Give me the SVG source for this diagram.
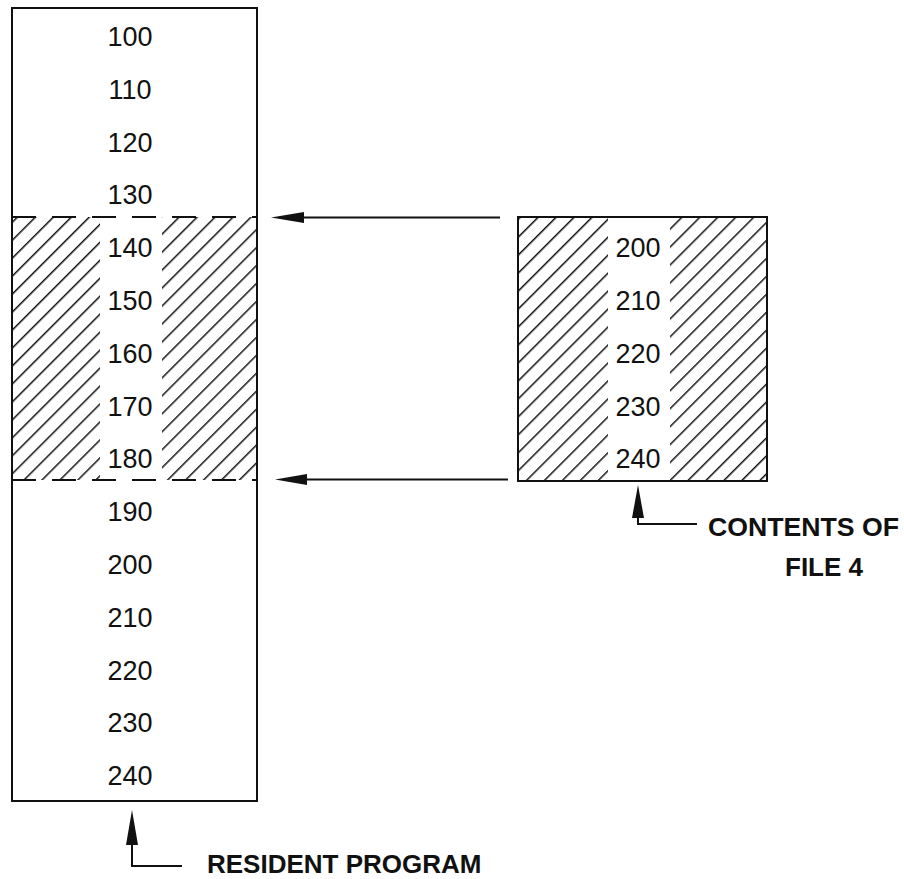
<svg xmlns="http://www.w3.org/2000/svg" width="904" height="879" viewBox="0 0 904 879">
<style>
.box{fill:none;stroke:#111;stroke-width:2}
.hatch{fill:url(#h);stroke:none}
.dash{stroke:#111;stroke-width:2;stroke-dasharray:24 16;fill:none}
.num{font-family:"Liberation Sans",Arial,sans-serif;font-size:27px;fill:#111;text-anchor:middle}
.lbl{font-family:"Liberation Sans",Arial,sans-serif;font-size:26px;font-weight:bold;fill:#111}
.con{fill:none;stroke:#111;stroke-width:2}
.head{fill:#111;stroke:none}
</style>
<defs>
<pattern id="h" patternUnits="userSpaceOnUse" width="12.7" height="12.7" patternTransform="rotate(45)">
<line x1="0" y1="0" x2="0" y2="12.7" stroke="#111" stroke-width="3"/>
</pattern>
</defs>
<rect width="904" height="879" fill="#fff"/>
<g id="resident-program">
<rect class="hatch" x="12" y="217" width="88" height="263"/>
<rect class="hatch" x="162" y="217" width="95" height="263"/>
<rect class="box" x="12" y="8" width="245" height="793"/>
<line class="dash" x1="12" y1="217" x2="257" y2="217"/>
<line class="dash" x1="12" y1="480" x2="257" y2="480"/>
<text class="num" x="130" y="46">100</text>
<text class="num" x="130" y="98.8">110</text>
<text class="num" x="130" y="151.6">120</text>
<text class="num" x="130" y="204.4">130</text>
<text class="num" x="130" y="257.2">140</text>
<text class="num" x="130" y="310">150</text>
<text class="num" x="130" y="362.8">160</text>
<text class="num" x="130" y="415.6">170</text>
<text class="num" x="130" y="468.4">180</text>
<text class="num" x="130" y="521.2">190</text>
<text class="num" x="130" y="574">200</text>
<text class="num" x="130" y="626.8">210</text>
<text class="num" x="130" y="679.6">220</text>
<text class="num" x="130" y="732.4">230</text>
<text class="num" x="130" y="785.2">240</text>
</g>
<g id="file4">
<rect class="hatch" x="518" y="217" width="90" height="264"/>
<rect class="hatch" x="670" y="217" width="97" height="264"/>
<rect class="box" x="518" y="217" width="249" height="264"/>
<text class="num" x="638" y="257.2">200</text>
<text class="num" x="638" y="310">210</text>
<text class="num" x="638" y="362.8">220</text>
<text class="num" x="638" y="415.6">230</text>
<text class="num" x="638" y="468.4">240</text>
</g>
<g id="connectors">
<line class="con" x1="500" y1="217.5" x2="300" y2="217.5"/>
<polygon class="head" points="271,217.5 304,212 304,223"/>
<line class="con" x1="508" y1="479.5" x2="303" y2="479.5"/>
<polygon class="head" points="275,479.5 307,474 307,485"/>
<polyline class="con" points="638,515 638,524 697,524"/>
<polygon class="head" points="638,485 632,518 644,518"/>
<polyline class="con" points="132,842 132,866 182,866"/>
<polygon class="head" points="132,810 126,845 138,845"/>
</g>
<g id="label-contents">
<text class="lbl" x="708" y="536" textLength="191" lengthAdjust="spacingAndGlyphs">CONTENTS OF</text>
<text class="lbl" x="785" y="576">FILE 4</text>
</g>
<g id="label-resident">
<text class="lbl" x="207" y="873">RESIDENT PROGRAM</text>
</g>
</svg>
